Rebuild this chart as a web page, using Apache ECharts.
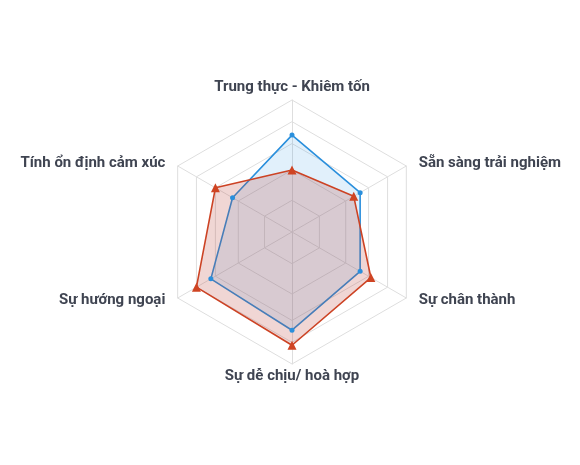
<!doctype html>
<html lang="vi">

<head>
	<meta charset="utf-8" />
	<title>Radar</title>
	<script src="https://cdn.jsdelivr.net/npm/echarts@6/dist/echarts.min.js"></script>
	<style>
		html, body { margin: 0; padding: 0; background: #fff; }
		#chart { width: 580px; height: 465px; }
	</style>
</head>

<body>
	<div id="chart"></div>
	<script>
		// trait names, clockwise from top
		const traits = ['Trung thực - Khiêm tốn', 'Sẵn sàng trải nghiệm', 'Sự chân thành', 'Sự dễ chịu/ hoà hợp', 'Sự hướng ngoại', 'Tính ổn định cảm xúc'];
		const scaleMax = 5;
		// grid ring levels (on the 0-5 scale)
		const ringLevels = [1.2, 2.35, 3.35, 4.18, 5];
		// series values
		const blueValues = [3.67, 2.98, 2.98, 3.72, 3.55, 2.6];
		const redValues = [2.35, 2.7, 3.45, 4.29, 4.18, 3.35];

		// echarts goes counter-clockwise, so reverse the order after the first
		const order = [0, 5, 4, 3, 2, 1];
		const reorder = arr => order.map(i => arr[i]);

		const cx = 292, cy = 232, R = 132;
		const gridColor = '#dedede';

		const radars = [{
			center: [cx, cy],
			radius: R,
			startAngle: 90,
			shape: 'polygon',
			splitNumber: 1,
			indicator: reorder(traits).map(name => ({ name: name, max: scaleMax, min: 0 })),
			axisName: {
				color: '#3f4451',
				fontFamily: 'Roboto',
				fontWeight: 'bold',
				fontSize: 15,
				// pushes the side labels a bit further out
				padding: [0, 8]
			},
			nameGap: 5,
			axisLine: { lineStyle: { color: gridColor } },
			splitLine: { show: false },
			splitArea: { show: false }
		}];
		// one radar per ring so the rings can sit where the reference has them
		ringLevels.forEach(level => {
			radars.push({
				center: [cx, cy],
				radius: R * level / scaleMax,
				startAngle: 90,
				shape: 'polygon',
				splitNumber: 1,
				indicator: traits.map(() => ({ name: '', max: 1 })),
				axisName: { show: false },
				axisLine: { show: false },
				axisTick: { show: false },
				axisLabel: { show: false },
				splitLine: { lineStyle: { color: gridColor, width: 1 } },
				splitArea: { show: false }
			});
		});

		const chart = echarts.init(document.getElementById('chart'));
		chart.setOption({
			animation: false,
			radar: radars,
			series: [
				{
					type: 'radar',
					radarIndex: 0,
					symbol: 'circle',
					symbolSize: 5,
					data: [{
						value: reorder(blueValues),
						lineStyle: { color: '#2a8fdc', width: 1.6 },
						itemStyle: { color: '#2a8fdc' },
						areaStyle: { color: 'rgba(42,150,230,0.2)' }
					}]
				},
				{
					type: 'radar',
					radarIndex: 0,
					symbol: 'triangle',
					symbolSize: 9,
					data: [{
						value: reorder(redValues),
						lineStyle: { color: '#cf4423', width: 1.6 },
						itemStyle: { color: '#cf4423' },
						areaStyle: { color: 'rgba(185,60,50,0.3)' }
					}]
				}
			]
		});
	</script>
</body>

</html>
